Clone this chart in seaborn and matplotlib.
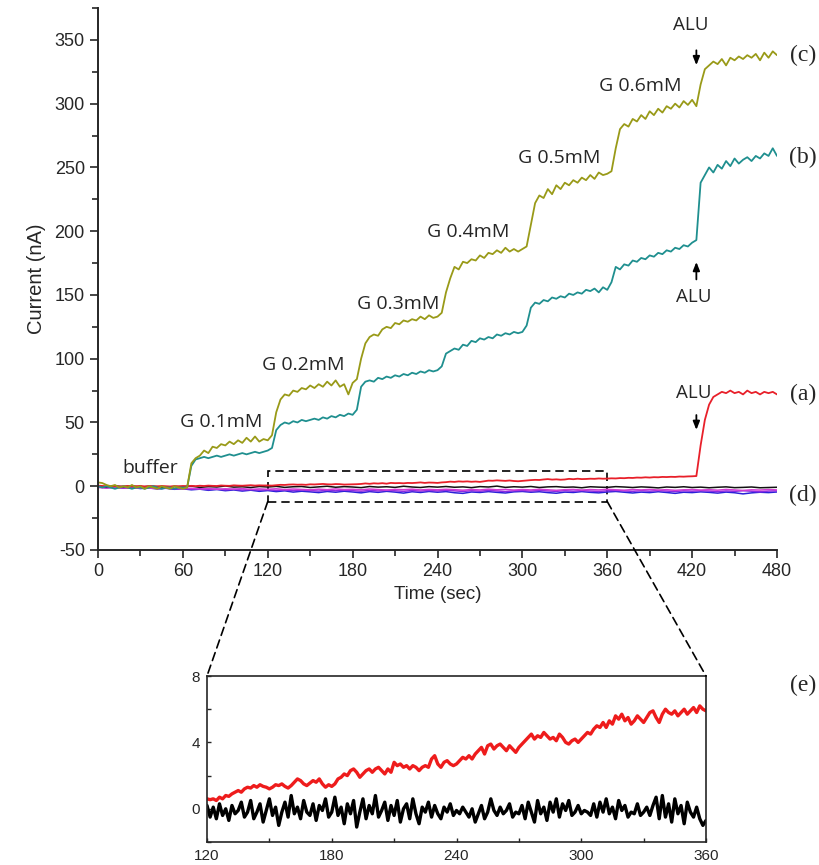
import matplotlib
matplotlib.use("Agg")
import matplotlib.pyplot as plt
import numpy as np
import seaborn as sns
from matplotlib.patches import Rectangle, ConnectionPatch
from matplotlib.ticker import MultipleLocator

# ---- data ----
# main traces sampled every 3 s (0..480 s)
trace_c = [  # olive, G additions then ALU
    3, 2.5, 1, 0, 1, -1, 0, -1, 1, -1, 0, -2, 0, -1, -2, 0, -1, -2, 0, -1, -2, -1,
    18, 22, 24, 28, 26, 31, 30, 33, 32, 35, 33, 36, 34, 38, 35, 39, 35, 37, 36,
    40, 58, 68, 72, 71, 75, 74, 77, 76, 79, 77, 80, 78, 82, 79, 83, 78, 80, 72, 81,
    84, 100, 112, 117, 119, 118, 123, 125, 124, 128, 127, 130, 129, 131, 130, 133, 131, 134, 132, 133,
    136, 152, 163, 172, 170, 176, 175, 178, 177, 181, 179, 183, 182, 185, 183, 187, 184, 186, 184, 186,
    188, 205, 222, 228, 226, 233, 229, 236, 233, 238, 236, 240, 238, 242, 240, 244, 241, 246, 244, 245,
    247, 265, 280, 284, 282, 288, 286, 291, 288, 294, 291, 296, 293, 298, 296, 300, 297, 302, 299, 303,
    298, 315, 327, 330, 333, 331, 335, 330, 336, 334, 337, 335, 338, 336, 339, 334, 340, 336, 341, 338,
]
trace_b = [  # teal
    0, -1, 0, -1, -2, -1, 0, -1, -2, -1, -1, -2, -1, 0, -1, -2, -1, -1, -2, -1, -1, -1,
    16, 21, 22, 23, 22, 23, 24, 23, 24, 25, 24, 25, 26, 25, 26, 27, 26, 27, 28,
    30, 44, 48, 50, 49, 51, 50, 52, 51, 52, 53, 52, 54, 53, 55, 54, 56, 55, 57, 56,
    60, 78, 82, 83, 82, 85, 84, 86, 85, 87, 86, 88, 87, 89, 88, 90, 89, 91, 90, 91,
    94, 104, 106, 108, 107, 111, 110, 114, 113, 116, 115, 117, 116, 119, 118, 120, 119, 121, 120, 121,
    126, 140, 144, 143, 146, 145, 148, 147, 149, 148, 151, 150, 152, 151, 154, 153, 155, 152, 156, 154,
    160, 172, 170, 174, 173, 177, 176, 179, 178, 181, 180, 183, 182, 185, 184, 187, 186, 189, 188, 191,
    193, 238, 244, 250, 246, 252, 249, 255, 251, 257, 253, 256, 258, 255, 259, 257, 261, 259, 265, 259,
]
trace_a = [  # red
    0.5, 0.2, 0, -0.3, 0.1, -0.2, 0, 0.2, -0.1, 0, 0.3, -0.2, 0.1, 0, -0.1, 0.2, 0, -0.2, 0.1, 0, 0.2, 0.1,
    0.3, 0.1, 0.4, 0.2, 0.5, 0.3, 0.2, 0.6, 0.4, 0.3, 0.7, 0.5, 0.4, 0.6, 0.8, 0.5, 0.7, 0.6, 0.6,
    0.5, 0.8, 1.1, 1.0, 1.3, 1.4, 1.2, 1.3, 1.1, 1.5, 1.4, 1.6, 1.8, 1.5, 1.4, 1.7, 1.6, 1.3, 1.4, 1.5,
    1.6, 1.8, 2.2, 1.9, 2.3, 2.1, 2.4, 2.0, 2.6, 2.4, 2.5, 2.3, 2.6, 2.5, 2.7, 3.0, 2.6, 2.9, 2.8, 2.6,
    3.0, 3.2, 3.6, 3.4, 3.8, 3.6, 3.8, 3.5, 3.7, 3.4, 3.9, 4.4, 4.3, 4.6, 4.4, 4.2, 4.5, 4.1, 3.9, 4.2,
    4.5, 4.8, 5.0, 4.9, 5.3, 5.6, 5.2, 5.4, 5.1, 5.3, 5.8, 5.5, 5.9, 5.6, 5.7, 5.9, 5.8, 6.1, 5.9, 6.0,
    6.2, 6.1, 6.4, 6.3, 6.6, 6.5, 6.8, 6.7, 7.0, 6.8, 7.1, 7.0, 7.3, 7.2, 7.4, 7.3, 7.6, 7.5, 7.7, 7.8,
    8, 32, 52, 64, 70, 72, 74, 73, 75, 73, 74, 72, 75, 73, 74, 72, 74, 73, 74, 72,
]

# control traces (d) sampled every 6 s (0..480 s)
trace_d_black = [
    0, -0.5, 0.3, -0.4, 0.2, -0.6, 0, -0.3, -0.8, -0.2,
    -0.5, 0.1, -0.9, -0.3, -0.6, 0.2, -0.7, -0.4, -1.0, -0.2,
    -0.6, -0.1, -0.9, -0.4, -0.2, -1.0, -0.5, 0, -0.8, -0.3,
    -0.6, -1.1, -0.2, -0.7, -0.4, -0.9, 0, -0.6, -1.0, -0.3,
    -0.7, -0.2, -0.8, -0.5, -1.1, -0.3, -0.6, 0.1, -0.9, -0.4,
    -0.7, -0.2, -1.0, -0.5, -0.3, -0.8, -0.6, -1.2, -0.4, -0.7,
    -0.9, -0.3, -0.6, -1.0, -0.5, -0.8, -1.3, -0.6, -0.9, -0.4,
    -1.0, -0.7, -1.2, -0.8, -0.5, -1.1, -0.9, -0.6, -1.2, -1.0, -0.8,
]
trace_d_magenta = [
    -1.0, -1.4, -0.8, -1.2, -1.6, -1.1, -1.5, -1.9, -1.3, -1.7,
    -2.0, -1.6, -2.2, -1.8, -2.4, -2.0, -2.3, -1.9, -2.5, -2.1,
    -2.4, -2.0, -2.6, -2.2, -2.5, -2.8, -2.3, -2.7, -2.1, -2.6,
    -2.4, -2.8, -2.2, -2.6, -3.0, -2.5, -2.7, -2.3, -2.9, -2.5,
    -2.8, -2.4, -2.7, -3.1, -2.6, -2.9, -2.3, -2.8, -2.5, -3.0,
    -2.6, -2.9, -2.4, -2.8, -3.2, -2.7, -2.5, -3.0, -2.6, -2.9,
    -2.4, -2.8, -3.1, -2.6, -2.9, -2.5, -3.0, -2.7, -3.2, -2.8,
    -2.6, -3.0, -2.7, -3.1, -2.5, -2.9, -3.3, -2.8, -3.0, -2.6, -2.9,
]
trace_d_purple = [
    -0.5, -1.0, -0.7, -1.3, -1.0, -1.6, -1.2, -1.8, -1.5, -2.0,
    -1.7, -2.3, -1.9, -2.6, -2.2, -2.8, -2.4, -3.0, -2.6, -3.1,
    -2.8, -3.3, -2.9, -3.5, -3.0, -3.4, -3.8, -3.2, -3.6, -3.1,
    -3.5, -3.9, -3.3, -3.7, -3.2, -3.6, -4.0, -3.4, -3.8, -3.3,
    -3.7, -3.2, -3.6, -4.1, -3.5, -3.9, -3.3, -3.7, -4.2, -3.6,
    -3.4, -3.8, -3.3, -3.7, -4.0, -3.5, -3.9, -3.4, -3.8, -4.1,
    -3.6, -3.3, -3.7, -4.0, -3.5, -3.9, -3.4, -3.8, -4.2, -3.6,
    -3.9, -3.5, -3.8, -4.3, -3.7, -4.0, -3.5, -3.9, -4.4, -3.8, -3.6,
]
trace_d_blue = [
    -0.5, -1.2, -0.8, -1.5, -1.0, -1.8, -1.3, -2.1, -1.6, -2.4,
    -2.0, -2.8, -2.3, -3.2, -2.6, -3.5, -2.9, -3.8, -3.1, -4.0,
    -3.4, -4.2, -3.6, -4.6, -3.9, -4.4, -5.0, -4.1, -4.7, -3.9,
    -4.5, -5.2, -4.2, -4.8, -4.0, -4.6, -5.4, -4.3, -4.9, -4.1,
    -4.7, -4.2, -5.1, -5.6, -4.5, -4.9, -4.2, -4.8, -5.3, -4.4,
    -4.1, -4.7, -4.3, -5.0, -5.5, -4.6, -4.9, -4.2, -4.8, -5.2,
    -4.5, -4.1, -4.7, -5.3, -4.6, -5.0, -4.3, -4.9, -5.6, -4.7,
    -5.0, -4.4, -4.8, -5.4, -4.6, -5.1, -6.0, -5.2, -4.7, -5.0, -4.5,
]

# inset (e), sampled every 1.5 s (120..360 s)
inset_red = [
    0.6, 0.55, 0.6, 0.5, 0.7, 0.6, 0.8, 0.75, 0.9, 1.0,
    1.1, 1.0, 1.2, 1.3, 1.25, 1.4, 1.3, 1.45, 1.35, 1.3,
    1.2, 1.3, 1.45, 1.4, 1.5, 1.35, 1.25, 1.4, 1.6, 1.8,
    1.7, 1.5, 1.4, 1.55, 1.7, 1.6, 1.8, 1.5, 1.3, 1.45,
    1.35, 1.5, 1.8, 1.9, 2.1, 2.0, 2.3, 2.4, 2.2, 1.9,
    2.1, 2.3, 2.4, 2.2, 2.4, 2.5, 2.3, 2.1, 2.4, 2.2,
    2.8, 2.6, 2.7, 2.5, 2.6, 2.4, 2.6, 2.5, 2.3, 2.5,
    2.6, 2.5, 3.0, 3.2, 2.7, 2.5, 2.8, 2.9, 2.7, 2.6,
    2.7, 2.9, 3.1, 3.0, 3.2, 3.0, 3.3, 3.5, 3.7, 3.3,
    3.8, 3.9, 3.6, 3.8, 3.9, 3.7, 3.5, 3.8, 3.6, 3.4,
    3.7, 3.9, 4.1, 4.3, 4.5, 4.2, 4.4, 4.3, 4.6, 4.4,
    4.2, 4.3, 4.1, 4.5, 4.3, 4.0, 3.9, 4.1, 4.2, 4.0,
    4.2, 4.4, 4.6, 4.5, 4.8, 5.0, 4.9, 5.2, 4.9, 5.3,
    5.1, 5.6, 5.4, 5.7, 5.3, 5.5, 5.1, 5.3, 5.6, 5.4,
    5.2, 5.5, 5.8, 5.9, 5.5, 5.2, 5.7, 6.0, 5.8, 5.7,
    5.9, 5.6, 5.8, 6.0, 5.7, 5.9, 6.1, 5.8, 6.2, 6.0,
    5.9,
]
inset_black = [
    0.2, -0.5, 0.1, -0.6, 0.3, -0.4, 0.0, -0.7, 0.2, -0.3,
    -0.1, 0.4, -0.5, -0.2, 0.5, -0.6, -0.2, 0.3, -0.8, -0.1,
    0.6, -0.4, 0.1, -1.0, -0.2, 0.4, -0.5, 0.8, -0.3, 0.1,
    -0.6, 0.5, -0.2, -0.4, 0.3, -0.7, 0.2, -0.1, 0.6, -0.5,
    -0.2, 0.7, -0.4, 0.1, -0.9, 0.3, -0.3, 0.5, -1.1, -0.2,
    0.6, -0.6, 0.2, -0.3, 0.8, -0.5, -0.1, 0.4, -0.7, 0.2,
    -0.4, 0.5, -0.8, 0.0, 0.3, -0.6, 0.6, -0.3, -0.9, 0.1,
    -0.2, 0.4, -0.5, 0.2, -0.3, -0.6, 0.1, -0.2, 0.3, -0.4,
    -0.1, -0.3, 0.1, -0.2, -0.5, 0.0, -0.8, -0.3, 0.2, -0.6,
    -0.2, 0.6, -0.1, -0.4, 0.1, -0.3, -0.1, 0.3, -0.5, -0.2,
    -0.3, 0.2, -0.6, 0.4, -0.2, -0.8, 0.5, -0.3, 0.1, -0.7,
    0.4, -0.2, 0.6, -0.5, 0.3, -0.1, 0.5, -0.4, -0.2, 0.2,
    -0.3, -0.1, -0.2, -0.4, 0.3, -0.5, 0.4, -0.2, 0.6, -0.3,
    0.1, -0.6, 0.5, -0.1, 0.2, -0.5, -0.2, -0.3, 0.3, -0.4,
    -0.2, 0.1, -0.4, 0.2, 0.7, -0.6, 0.8, -0.5, 0.3, -0.8,
    0.6, -0.3, 0.2, -0.9, 0.4, -0.2, -0.5, 0.1, -0.6, -1.0,
    -0.7,
]

# annotation labels: (text, time, current)
step_labels = [
    ("buffer", 37, 14),
    ("G 0.1mM", 87, 50),
    ("G 0.2mM", 145, 95),
    ("G 0.3mM", 212, 143),
    ("G 0.4mM", 262, 199),
    ("G 0.5mM", 326, 257),
    ("G 0.6mM", 383, 314),
]
curve_tags = [("(c)", 55), ("(b)", 157), ("(a)", 394), ("(d)", 495), ("(e)", 685)]

OLIVE = "#999a18"
TEAL = "#1f8f8f"
RED = "#e8202a"

t_main = np.arange(0, 481, 3)
t_ctrl = np.arange(0, 481, 6)
t_inset = np.arange(120, 360.1, 1.5)

sns.set_style("ticks")
plt.rcParams["font.family"] = ["Liberation Sans", "DejaVu Sans"]
plt.rcParams["axes.unicode_minus"] = False

fig = plt.figure(figsize=(8.19, 8.65), dpi=100)
ax = fig.add_axes([98 / 819, 1 - 550 / 865, 679 / 819, 542 / 865])

for vals, col in [
    (trace_d_blue, "#2a22d8"),
    (trace_d_purple, "#8a2be2"),
    (trace_d_magenta, "#d23ad2"),
    (trace_d_black, "#111111"),
]:
    sns.lineplot(x=t_ctrl, y=vals, ax=ax, color=col, linewidth=1.1)
sns.lineplot(x=t_main, y=trace_a, ax=ax, color=RED, linewidth=1.3)
sns.lineplot(x=t_main, y=trace_b, ax=ax, color=TEAL, linewidth=1.3)
sns.lineplot(x=t_main, y=trace_c, ax=ax, color=OLIVE, linewidth=1.3)

ax.set_xlim(0, 480)
ax.set_ylim(-50, 375)
ax.xaxis.set_major_locator(MultipleLocator(60))
ax.xaxis.set_minor_locator(MultipleLocator(30))
ax.yaxis.set_major_locator(MultipleLocator(50))
ax.yaxis.set_minor_locator(MultipleLocator(25))
ax.set_yticks([-50, 0, 50, 100, 150, 200, 250, 300, 350])
ax.tick_params(which="major", direction="out", length=6, width=1.2, labelsize=13)
ax.tick_params(which="minor", direction="out", length=4, width=1.2)
for side in ["top", "right"]:
    ax.spines[side].set_visible(False)
for side in ["left", "bottom"]:
    ax.spines[side].set_linewidth(1.4)
ax.set_xlabel("Time (sec)", fontsize=13.5)
ax.set_ylabel("Current (nA)", fontsize=14.5, labelpad=6)

for text, tx, ty in step_labels:
    ax.text(tx, ty, text, ha="center", va="center", fontsize=14, family="Open Sans")

arrow_kw = dict(arrowstyle="-|>,head_length=0.5,head_width=0.2", color="black", lw=1.3)
ax.text(419, 362, "ALU", ha="center", va="center", fontsize=13.5, family="Open Sans")
ax.annotate("", xy=(423, 328), xytext=(423, 344), arrowprops=arrow_kw)
ax.text(421, 148, "ALU", ha="center", va="center", fontsize=13.5, family="Open Sans")
ax.annotate("", xy=(423, 178), xytext=(423, 160), arrowprops=arrow_kw)
ax.text(421, 73, "ALU", ha="center", va="center", fontsize=13.5, family="Open Sans")
ax.annotate("", xy=(423, 42), xytext=(423, 58), arrowprops=arrow_kw)

ax.add_patch(Rectangle((120, -12), 240, 24, fill=False, ls=(0, (5, 3)), lw=1.2, ec="black"))

for tag, py in curve_tags:
    fig.text(803 / 819, 1 - py / 865, tag, ha="center", va="center", fontsize=17,
             family="Liberation Serif")

# ---- inset (e) ----
ins = fig.add_axes([207 / 819, 1 - 842 / 865, 499 / 819, 166 / 865])
sns.lineplot(x=t_inset, y=inset_black, ax=ins, color="black", linewidth=2.4)
sns.lineplot(x=t_inset, y=inset_red, ax=ins, color="#ee1c1c", linewidth=2.4)
ins.set_xlim(120, 360)
ins.set_ylim(-2, 8)
ins.set_xticks([120, 180, 240, 300, 360])
ins.set_yticks([0, 4, 8])
ins.xaxis.set_minor_locator(MultipleLocator(30))
ins.yaxis.set_minor_locator(MultipleLocator(2))
ins.tick_params(which="both", direction="in", length=3, width=1, labelsize=11, pad=5)
for s in ins.spines.values():
    s.set_linewidth(1.2)

for xa, xb in [(120, 0), (360, 1)]:
    con = ConnectionPatch(xyA=(xa, -12), coordsA=ax.transData, xyB=(xb, 1),
                          coordsB=ins.transAxes, ls=(0, (5, 3)), lw=1.2, color="black")
    fig.add_artist(con)

fig.savefig("out.png", dpi=100)
